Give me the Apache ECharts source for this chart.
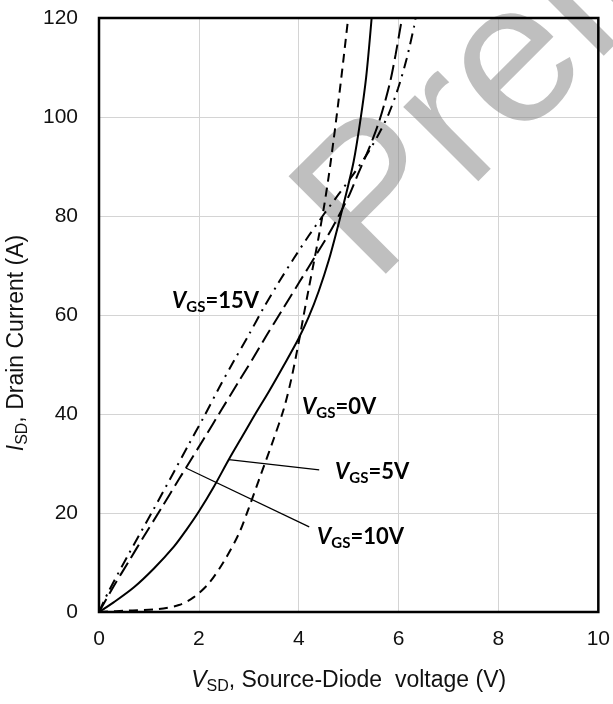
<!DOCTYPE html>
<html>
<head>
<meta charset="utf-8">
<script src="https://cdn.jsdelivr.net/npm/echarts@6/dist/echarts.min.js"></script>
<style>
  html, body { margin: 0; padding: 0; background: #fff; }
  #chart { width: 613px; height: 704px; }
</style>
</head>
<body>
<div id="chart"></div>
<script>
// Source-diode forward characteristics, I_SD vs V_SD for several gate voltages
const xTicks = [0, 2, 4, 6, 8, 10];
const yTicks = [0, 20, 40, 60, 80, 100, 120];

const vsd0V = [0, 0.6, 1.2, 1.6, 1.9, 2.2, 2.5, 2.8, 3.0, 3.25, 3.5, 3.7, 3.85, 4.0, 4.1, 4.2, 4.3, 4.4, 4.5, 4.6, 4.7, 4.8, 4.9, 4.99];
const isd0V = [0, 0.3, 0.6, 1.4, 3, 5.8, 10.2, 15.8, 21, 28, 35, 41, 47, 54.5, 60, 65.3, 70.5, 75.8, 81.5, 88, 95.5, 103.5, 112, 120];

const vsd5V = [0, 0.3, 0.7, 1.1, 1.5, 1.75, 2.0, 2.3, 2.6, 2.9, 3.13, 3.4, 3.7, 4.0, 4.2, 4.4, 4.6, 4.8, 4.95, 5.1, 5.23, 5.35, 5.46];
const isd5V = [0, 2, 5, 8.8, 13.2, 16.6, 20.3, 25.3, 30.8, 36, 40, 44.5, 49.8, 55.3, 59.6, 64.8, 71, 78.5, 84.5, 91, 99, 108, 120];

const vsd10V = [0, 0.3, 0.6, 0.9, 1.25, 1.6, 1.74, 2.1, 2.45, 2.8, 3.1, 3.34, 3.68, 4.01, 4.34, 4.61, 4.81, 5.01, 5.18, 5.41, 5.6, 5.72, 5.84, 5.94, 6.04, 6.07];
const isd10V = [0, 5.3, 10.3, 15.3, 21, 26.8, 29.1, 35, 40.8, 46.6, 51.5, 55.6, 61.2, 66.6, 72, 76.5, 80.2, 84.2, 88.3, 93.7, 98.8, 102.8, 107.5, 112.6, 118.3, 120];

const vsd15V = [0, 0.2, 0.6, 1.08, 1.5, 1.8, 2.11, 2.4, 2.7, 3.0, 3.3, 3.6, 3.9, 4.2, 4.5, 4.8, 5.1, 5.4, 5.6, 5.8, 5.99, 6.16, 6.31, 6.34];
const isd15V = [0, 4.3, 11.8, 20.5, 28.3, 33.9, 39.6, 45.2, 50.7, 56, 61.5, 66.6, 71.4, 76, 80.3, 84.4, 88.5, 93, 96.5, 100.6, 105.8, 111.7, 118.3, 120];

// leader lines from the 5 V and 10 V curves to their labels
const leader5V = [[2.6, 30.8], [4.41, 28.7]];
const leader10V = [[1.74, 29.1], [4.21, 17.2]];

const zip = (xs, ys) => xs.map((x, i) => [x, ys[i]]);

const chart = echarts.init(document.getElementById('chart'), null, { renderer: 'canvas' });

const axisFont = 'Liberation Sans';
const labelFont = 'Lato';

function curve(name, xs, ys, dash) {
  return {
    name: name,
    type: 'line',
    data: zip(xs, ys),
    showSymbol: false,
    symbol: 'none',
    smooth: 0.3,
    clip: true,
    lineStyle: { color: '#000', width: 2, type: dash, cap: 'butt' },
    z: 3,
    silent: true
  };
}

function leader(name, pts) {
  return {
    name: name,
    type: 'line',
    data: pts,
    symbol: 'none',
    lineStyle: { color: '#000', width: 1.2 },
    z: 3,
    silent: true
  };
}

const option = {
  animation: false,
  backgroundColor: '#fff',
  grid: { left: 99, right: 13, top: 18, bottom: 92, containLabel: false },
  xAxis: {
    type: 'value',
    min: xTicks[0], max: xTicks[xTicks.length - 1], interval: 2,
    axisLine: { show: false },
    axisTick: { show: false },
    splitLine: { show: true, lineStyle: { color: '#d4d4d4', width: 1 } },
    axisLabel: { fontSize: 21, color: '#111', fontFamily: axisFont, margin: 17 }
  },
  yAxis: {
    type: 'value',
    min: yTicks[0], max: yTicks[yTicks.length - 1], interval: 20,
    axisLine: { show: false },
    axisTick: { show: false },
    splitLine: { show: true, lineStyle: { color: '#d4d4d4', width: 1 } },
    axisLabel: { fontSize: 21, color: '#111', fontFamily: axisFont, margin: 21 }
  },
  series: [
    curve('VGS=0V', vsd0V, isd0V, [9, 6]),
    curve('VGS=5V', vsd5V, isd5V, 'solid'),
    curve('VGS=10V', vsd10V, isd10V, [15, 6]),
    curve('VGS=15V', vsd15V, isd15V, [11, 6, 2, 6]),
    leader('lead5V', leader5V),
    leader('lead10V', leader10V)
  ]
};

chart.setOption(option);

// frame and text overlays placed from the grid's own coordinate system
const p00 = chart.convertToPixel({ gridIndex: 0 }, [xTicks[0], yTicks[0]]);
const p11 = chart.convertToPixel({ gridIndex: 0 }, [xTicks[xTicks.length - 1], yTicks[yTicks.length - 1]]);

function gsLabel(x, baseline, value) {
  return {
    type: 'text',
    x: x,
    y: baseline - 8,
    z: 10,
    silent: true,
    style: {
      text: '{v|V}{s|GS}{n|=' + value + '}',
      align: 'left',
      verticalAlign: 'middle',
      fill: '#000',
      rich: {
        v: { fontFamily: labelFont, fontSize: 22, fontWeight: 'bold', fontStyle: 'italic', lineHeight: 28, fill: '#000' },
        s: { fontFamily: labelFont, fontSize: 15, fontWeight: 'bold', lineHeight: 10, verticalAlign: 'bottom', fill: '#000' },
        n: { fontFamily: labelFont, fontSize: 22, fontWeight: 'bold', lineHeight: 28, fill: '#000' }
      }
    }
  };
}

const titleRich = {
  v: { fontFamily: axisFont, fontSize: 23, fontStyle: 'italic', lineHeight: 28, fill: '#111' },
  s: { fontFamily: axisFont, fontSize: 16, lineHeight: 10, verticalAlign: 'bottom', fill: '#111' },
  n: { fontFamily: axisFont, fontSize: 23, lineHeight: 28, fill: '#111' }
};

chart.setOption({
  graphic: [
    {
      type: 'text',
      x: 384, y: 295,
      rotation: Math.PI / 4,
      z: 1,
      silent: true,
      style: {
        text: 'Preliminary',
        x: 0, y: -69,
        font: 'normal 200px "Liberation Sans"',
        fill: 'rgba(128,128,128,0.5)',
        align: 'left',
        verticalAlign: 'middle'
      }
    },
    {
      type: 'rect',
      z: 5,
      silent: true,
      shape: { x: p00[0], y: p11[1], width: p11[0] - p00[0], height: p00[1] - p11[1] },
      style: { fill: 'none', stroke: '#000', lineWidth: 2.5 }
    },
    gsLabel(172, 309, '15V'),
    gsLabel(302, 415, '0V'),
    gsLabel(335, 480, '5V'),
    gsLabel(317, 545, '10V'),
    {
      type: 'text',
      x: (p00[0] + p11[0]) / 2, y: 681,
      z: 10, silent: true,
      style: {
        text: '{v|V}{s|SD}{n|, Source-Diode  voltage (V)}',
        align: 'center', verticalAlign: 'middle',
        rich: titleRich
      }
    },
    {
      type: 'text',
      x: 17, y: 343,
      rotation: Math.PI / 2,
      z: 10, silent: true,
      style: {
        text: '{v|I}{s|SD}{n|, Drain Current (A)}',
        align: 'center', verticalAlign: 'middle',
        rich: titleRich
      }
    }
  ]
});
</script>
</body>
</html>
